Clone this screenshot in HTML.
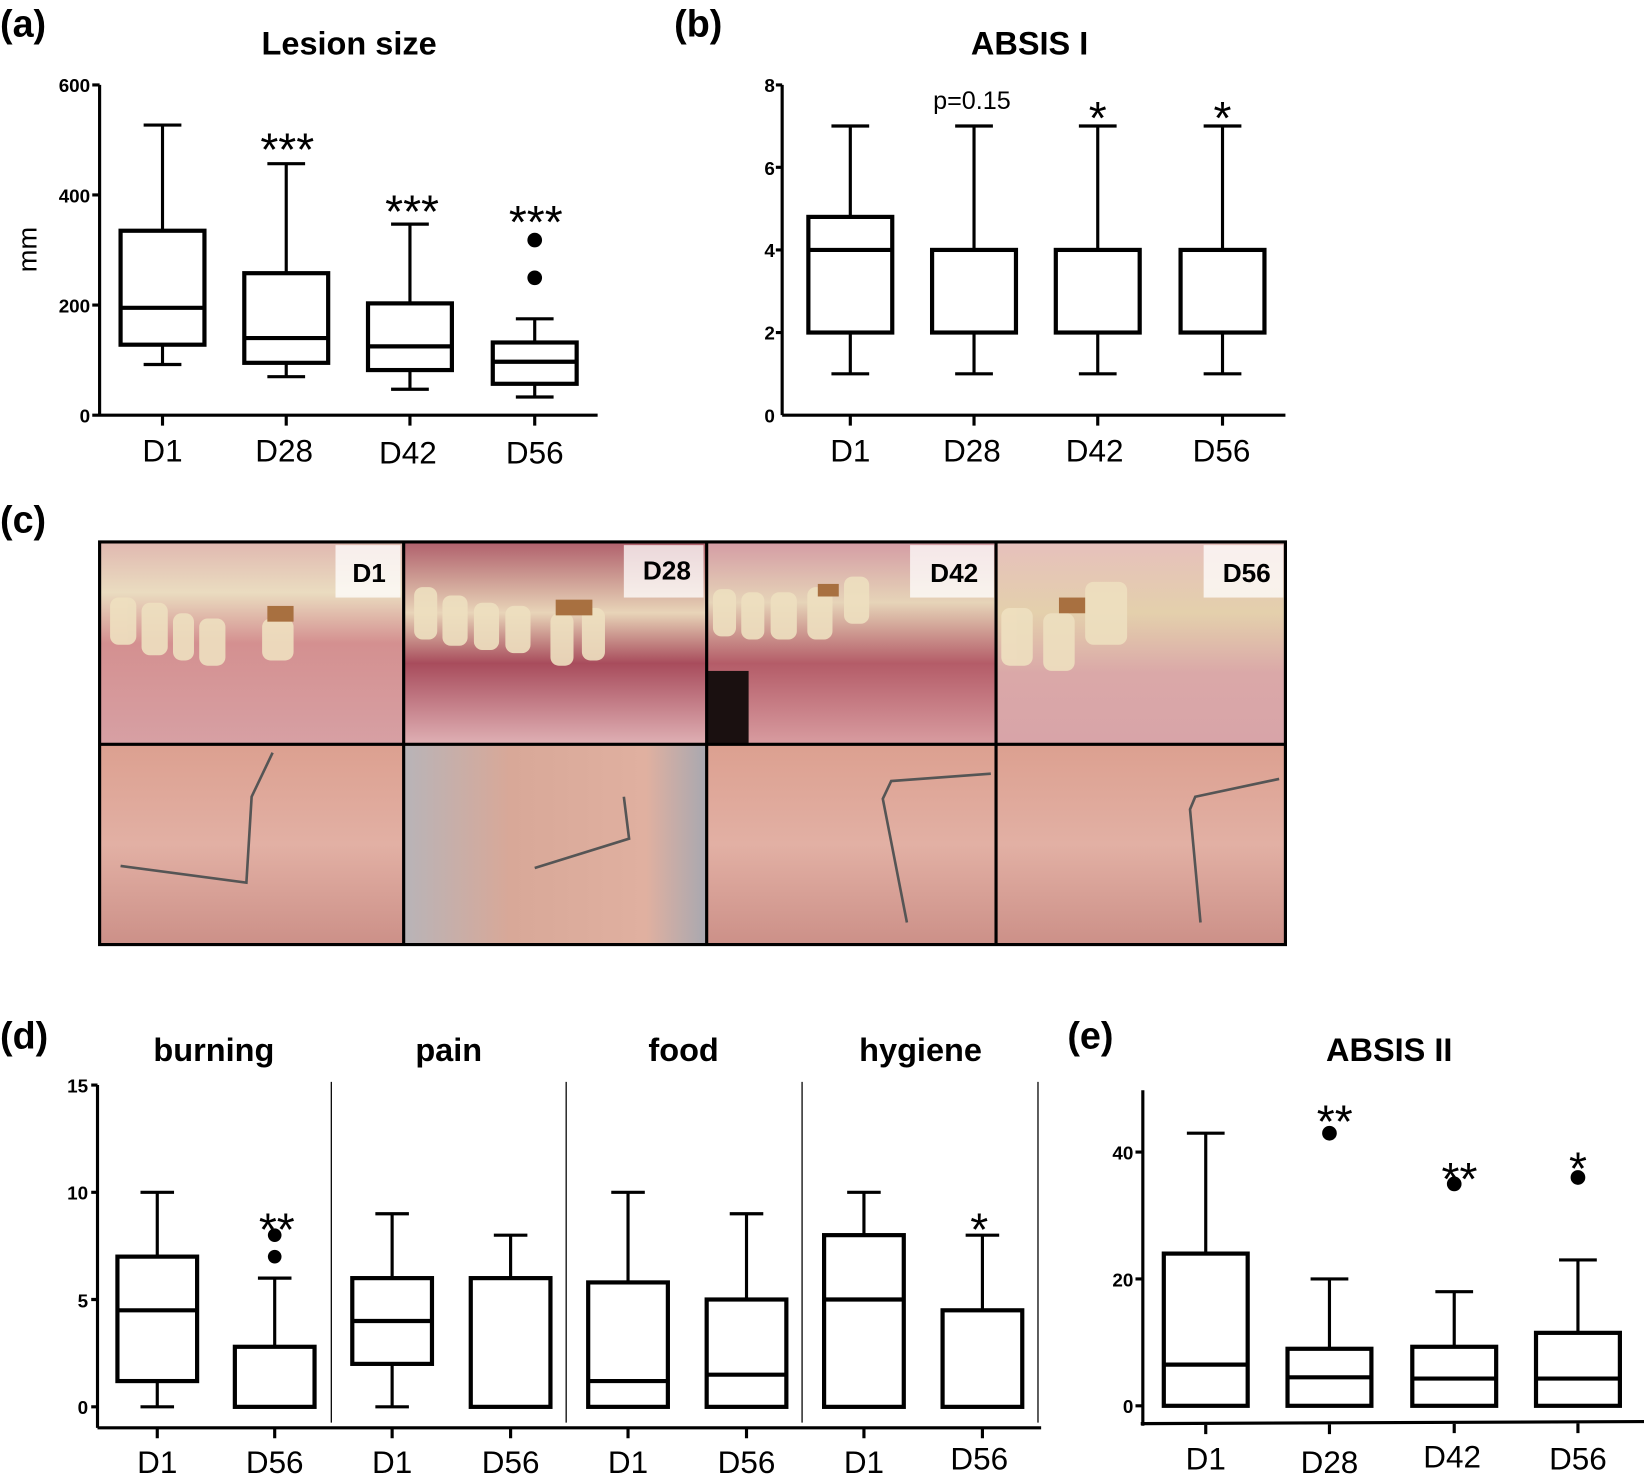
<!DOCTYPE html>
<html><head><meta charset="utf-8"><style>
html,body{margin:0;padding:0;background:#fff;width:1644px;height:1475px;overflow:hidden}
svg{display:block}
text{font-family:"Liberation Sans",sans-serif;fill:#000}
.t{font-weight:bold;font-size:31px}
.p{font-size:36px;font-weight:bold}
.k{font-size:18px;font-weight:bold;text-anchor:end}
.c{font-size:30px;text-anchor:middle}
.s{font-size:44px;text-anchor:middle}
.b{fill:none;stroke:#000;stroke-width:4}
.w{stroke:#000;stroke-width:3;fill:none}
.ax{stroke:#000;stroke-width:3;fill:none}
.lb{font-weight:bold;font-size:25px;text-anchor:end}
</style></head><body>
<svg width="1644" height="1475" viewBox="0 0 1568 1407" preserveAspectRatio="none">
<defs>
<linearGradient id="top1" x1="0" y1="0" x2="0" y2="1"><stop offset="0" stop-color="#e0b8b0"/><stop offset="0.25" stop-color="#eadcc0"/><stop offset="0.5" stop-color="#d49090"/><stop offset="1" stop-color="#d7a0a4"/></linearGradient>
<linearGradient id="top2" x1="0" y1="0" x2="0" y2="1"><stop offset="0" stop-color="#b0606c"/><stop offset="0.35" stop-color="#e8d4b8"/><stop offset="0.6" stop-color="#a84c5c"/><stop offset="1" stop-color="#dfb0b4"/></linearGradient>
<linearGradient id="top3" x1="0" y1="0" x2="0" y2="1"><stop offset="0" stop-color="#d49ca4"/><stop offset="0.3" stop-color="#e6d4b8"/><stop offset="0.6" stop-color="#b45c68"/><stop offset="1" stop-color="#d89ca0"/></linearGradient>
<linearGradient id="top4" x1="0" y1="0" x2="0" y2="1"><stop offset="0" stop-color="#e6c0bc"/><stop offset="0.35" stop-color="#e4d0ac"/><stop offset="0.65" stop-color="#daa8a8"/><stop offset="1" stop-color="#d8a4a8"/></linearGradient>
<linearGradient id="bot" x1="0" y1="0" x2="0" y2="1"><stop offset="0" stop-color="#dca090"/><stop offset="0.5" stop-color="#e2b0a4"/><stop offset="1" stop-color="#cc9088"/></linearGradient>
<linearGradient id="bot2" x1="0" y1="0" x2="1" y2="0"><stop offset="0" stop-color="#b8b4b8"/><stop offset="0.35" stop-color="#d8a898"/><stop offset="0.8" stop-color="#e0b0a0"/><stop offset="1" stop-color="#a8a8b0"/></linearGradient>
</defs>

<text x="0" y="35" class="p">(a)</text>
<text x="643" y="35" class="p">(b)</text>
<text x="0" y="508" class="p">(c)</text>
<text x="0" y="1000" class="p">(d)</text>
<text x="1018" y="1000" class="p">(e)</text>
<text x="333" y="52" class="t" text-anchor="middle">Lesion size</text>
<text x="982" y="52" class="t" text-anchor="middle">ABSIS I</text>
<text x="204" y="1012" class="t" text-anchor="middle">burning</text>
<text x="428" y="1012" class="t" text-anchor="middle">pain</text>
<text x="652" y="1012" class="t" text-anchor="middle">food</text>
<text x="878" y="1012" class="t" text-anchor="middle">hygiene</text>
<text x="1325" y="1012" class="t" text-anchor="middle">ABSIS II</text>

<!-- ===== Panel a ===== -->
<path class="ax" d="M95,81 V396 M88,396 H570 M88,81 H95 M88,186 H95 M88,291 H95 M155,396 v10 M273,396 v10 M391,396 v10 M510,396 v10"/>
<text x="86" y="88" class="k">600</text><text x="86" y="193" class="k">400</text><text x="86" y="298" class="k">200</text><text x="86" y="403" class="k">0</text>
<text transform="translate(35,238) rotate(-90)" font-size="26" text-anchor="middle">mm</text>
<path class="w" d="M155,347.7 V328.8 M155,220.1 V119.3 M137,347.7 H173 M137,119.3 H173"/>
<rect class="b" x="115" y="220.1" width="80" height="108.7"/><path class="b" d="M115,293.6 H195"/>
<path class="w" d="M273,359.3 V346.1 M273,260.6 V156.1 M255,359.3 H291 M255,156.1 H291"/>
<rect class="b" x="233" y="260.6" width="80" height="85.5"/><path class="b" d="M233,322.5 H313"/>
<path class="w" d="M391,371.3 V353 M391,289.4 V213.8 M373,371.3 H409 M373,213.8 H409"/>
<rect class="b" x="351" y="289.4" width="80" height="63.6"/><path class="b" d="M351,330.4 H431"/>
<path class="w" d="M510,378.7 V366.1 M510,326.7 V304.1 M492,378.7 H528 M492,304.1 H528"/>
<rect class="b" x="470" y="326.7" width="80" height="39.4"/><path class="b" d="M470,345.1 H550"/>
<circle cx="510" cy="265" r="7"/><circle cx="510" cy="229" r="7"/>
<text x="274" y="158" class="s">***</text><text x="393" y="217" class="s">***</text><text x="511" y="227" class="s">***</text>
<text x="155" y="440" class="c">D1</text><text x="271" y="440" class="c">D28</text><text x="389" y="442" class="c">D42</text><text x="510" y="442" class="c">D56</text>

<!-- ===== Panel b ===== -->
<path class="ax" d="M746,81 V396 M746,396 H1226 M740,81 H746 M740,159.6 H746 M740,238.4 H746 M740,317.2 H746 M811,396 v10 M929,396 v10 M1047,396 v10 M1166,396 v10"/>
<text x="739" y="88" class="k">8</text><text x="739" y="167" class="k">6</text><text x="739" y="245" class="k">4</text><text x="739" y="324" class="k">2</text><text x="739" y="403" class="k">0</text>
<path class="w" d="M811,356.6 V317.2 M811,206.9 V120.2 M793,356.6 H829 M793,120.2 H829"/>
<rect class="b" x="771" y="206.9" width="80" height="110.3"/><path class="b" d="M771,238.4 H851"/>
<path class="w" d="M929,356.6 V317.2 M929,238.4 V120.2 M911,356.6 H947 M911,120.2 H947"/>
<rect class="b" x="889" y="238.4" width="80" height="78.8"/>
<path class="w" d="M1047,356.6 V317.2 M1047,238.4 V120.2 M1029,356.6 H1065 M1029,120.2 H1065"/>
<rect class="b" x="1007" y="238.4" width="80" height="78.8"/>
<path class="w" d="M1166,356.6 V317.2 M1166,238.4 V120.2 M1148,356.6 H1184 M1148,120.2 H1184"/>
<rect class="b" x="1126" y="238.4" width="80" height="78.8"/>
<text x="927" y="104" font-size="24" text-anchor="middle">p=0.15</text>
<text x="1047" y="128" class="s">*</text><text x="1166" y="128" class="s">*</text>
<text x="811" y="440" class="c">D1</text><text x="927" y="440" class="c">D28</text><text x="1044" y="440" class="c">D42</text><text x="1165" y="440" class="c">D56</text>

<!-- ===== Panel c photos ===== -->
<rect x="95" y="517" width="290" height="193" fill="url(#top1)"/>
<rect x="385" y="517" width="289" height="193" fill="url(#top2)"/>
<rect x="674" y="517" width="276" height="193" fill="url(#top3)"/>
<rect x="950" y="517" width="276" height="193" fill="url(#top4)"/>
<rect x="674" y="640" width="40" height="70" fill="#1a1010"/>
<rect x="95" y="710" width="290" height="191" fill="url(#bot)"/>
<rect x="385" y="710" width="289" height="191" fill="url(#bot2)"/>
<rect x="674" y="710" width="276" height="191" fill="url(#bot)"/>
<rect x="950" y="710" width="276" height="191" fill="url(#bot)"/>
<g fill="#eee0c0" opacity="0.9">
<rect x="105" y="570" width="25" height="45" rx="8"/><rect x="135" y="575" width="25" height="50" rx="8"/><rect x="165" y="585" width="20" height="45" rx="8"/><rect x="190" y="590" width="25" height="45" rx="8"/><rect x="250" y="590" width="30" height="40" rx="8"/>
<rect x="395" y="560" width="22" height="50" rx="8"/><rect x="422" y="568" width="24" height="48" rx="8"/><rect x="452" y="575" width="24" height="45" rx="8"/><rect x="482" y="578" width="24" height="45" rx="8"/><rect x="525" y="585" width="22" height="50" rx="8"/><rect x="555" y="580" width="22" height="50" rx="8"/>
<rect x="680" y="562" width="22" height="45" rx="8"/><rect x="707" y="565" width="22" height="45" rx="8"/><rect x="735" y="565" width="25" height="45" rx="8"/><rect x="770" y="560" width="24" height="50" rx="8"/><rect x="805" y="550" width="24" height="45" rx="8"/>
<rect x="955" y="580" width="30" height="55" rx="8"/><rect x="995" y="585" width="30" height="55" rx="8"/><rect x="1035" y="555" width="40" height="60" rx="8"/>
</g>
<g fill="#a87040"><rect x="255" y="578" width="25" height="15"/><rect x="530" y="572" width="35" height="15"/><rect x="780" y="557" width="20" height="12"/><rect x="1010" y="570" width="25" height="15"/></g>
<g stroke="#555" stroke-width="2.5" fill="none">
<path d="M115,826 L235,842 L240,760 L260,718"/>
<path d="M510,828 L600,800 L595,760"/>
<path d="M865,880 L842,762 L850,745 L945,738"/>
<path d="M1145,880 L1135,772 L1140,760 L1220,743"/>
</g>
<g fill="#fff" opacity="0.75">
<rect x="320" y="520" width="62" height="50"/><rect x="595" y="520" width="76" height="50"/><rect x="868" y="520" width="80" height="50"/><rect x="1148" y="520" width="76" height="50"/>
</g>
<text x="368" y="555" class="lb">D1</text><text x="659" y="553" class="lb">D28</text><text x="933" y="555" class="lb">D42</text><text x="1212" y="555" class="lb">D56</text>
<path d="M95,517 H1226 V901 H95 Z M385,517 V901 M674,517 V901 M950,517 V901 M95,710 H1226" stroke="#000" stroke-width="3" fill="none"/>

<!-- ===== Panel d ===== -->
<path class="ax" d="M93,1035 V1362 M93,1362 H993 M87,1035 H93 M87,1137.3 H93 M87,1239.6 H93 M87,1342 H93 M150,1362 v10 M262,1362 v10 M374,1362 v10 M487,1362 v10 M599,1362 v10 M712,1362 v10 M824,1362 v10 M937,1362 v10"/>
<path d="M316,1032 V1357 M540,1032 V1357 M765,1032 V1357 M990,1032 V1357" stroke="#000" stroke-width="1.2"/>
<text x="84" y="1042" class="k">15</text><text x="84" y="1144" class="k">10</text><text x="84" y="1247" class="k">5</text><text x="84" y="1349" class="k">0</text>
<path class="w" d="M150,1342 V1317.4 M150,1198.7 V1137.3 M134,1342 H166 M134,1137.3 H166"/>
<rect class="b" x="112" y="1198.7" width="76" height="118.7"/><path class="b" d="M112,1249.9 H188"/>
<path class="w" d="M262,1284.7 V1219.2 M246,1219.2 H278"/>
<rect class="b" x="224" y="1284.7" width="76" height="57.3"/>
<circle cx="262" cy="1198.7" r="6.5"/><circle cx="262" cy="1178.2" r="6.5"/>
<text x="264" y="1188" class="s">**</text>
<path class="w" d="M374,1342 V1301 M374,1219.2 V1157.8 M358,1342 H390 M358,1157.8 H390"/>
<rect class="b" x="336" y="1219.2" width="76" height="81.8"/><path class="b" d="M336,1260.1 H412"/>
<path class="w" d="M487,1219.2 V1178.2 M471,1178.2 H503"/>
<rect class="b" x="449" y="1219.2" width="76" height="122.8"/>
<path class="w" d="M599,1223.3 V1137.3 M583,1137.3 H615"/>
<rect class="b" x="561" y="1223.3" width="76" height="118.7"/><path class="b" d="M561,1317.4 H637"/>
<path class="w" d="M712,1239.6 V1157.8 M696,1157.8 H728"/>
<rect class="b" x="674" y="1239.6" width="76" height="102.4"/><path class="b" d="M674,1311.3 H750"/>
<path class="w" d="M824,1178.2 V1137.3 M808,1137.3 H840"/>
<rect class="b" x="786" y="1178.2" width="76" height="163.8"/><path class="b" d="M786,1239.6 H862"/>
<path class="w" d="M937,1249.9 V1178.2 M921,1178.2 H953"/>
<rect class="b" x="899" y="1249.9" width="76" height="92.1"/>
<text x="934" y="1188" class="s">*</text>
<text x="150" y="1405" class="c">D1</text><text x="262" y="1405" class="c">D56</text><text x="374" y="1405" class="c">D1</text><text x="487" y="1405" class="c">D56</text>
<text x="599" y="1405" class="c">D1</text><text x="712" y="1405" class="c">D56</text><text x="824" y="1405" class="c">D1</text><text x="934" y="1402" class="c">D56</text>

<!-- ===== Panel e ===== -->
<path class="ax" d="M1090,1040 V1360 M1088,1358 L1568,1356 M1083,1099 H1090 M1083,1220 H1090 M1083,1341 H1090 M1150,1358 v10 M1268,1358 v10 M1387,1357 v10 M1505,1357 v10"/>
<text x="1081" y="1106" class="k">40</text><text x="1081" y="1227" class="k">20</text><text x="1081" y="1348" class="k">0</text>
<path class="w" d="M1150,1195.8 V1080.9 M1132,1080.9 H1168"/>
<rect class="b" x="1110" y="1195.8" width="80" height="145.2"/><path class="b" d="M1110,1301.7 H1190"/>
<path class="w" d="M1268,1286.6 V1220 M1250,1220 H1286"/>
<rect class="b" x="1228" y="1286.6" width="80" height="54.4"/><path class="b" d="M1228,1313.8 H1308"/>
<circle cx="1268" cy="1081" r="7"/>
<path class="w" d="M1387,1284.7 V1232.1 M1369,1232.1 H1405"/>
<rect class="b" x="1347" y="1284.7" width="80" height="56.3"/><path class="b" d="M1347,1315 H1427"/>
<circle cx="1387" cy="1129.3" r="7"/>
<path class="w" d="M1505,1271.4 V1201.9 M1487,1201.9 H1523"/>
<rect class="b" x="1465" y="1271.4" width="80" height="69.6"/><path class="b" d="M1465,1315 H1545"/>
<circle cx="1505" cy="1123.2" r="7"/>
<text x="1273" y="1085" class="s">**</text><text x="1392" y="1140" class="s">**</text><text x="1505" y="1130" class="s">*</text>
<text x="1150" y="1402" class="c">D1</text><text x="1268" y="1405" class="c">D28</text><text x="1385" y="1400" class="c">D42</text><text x="1505" y="1402" class="c">D56</text>
</svg>
</body></html>
